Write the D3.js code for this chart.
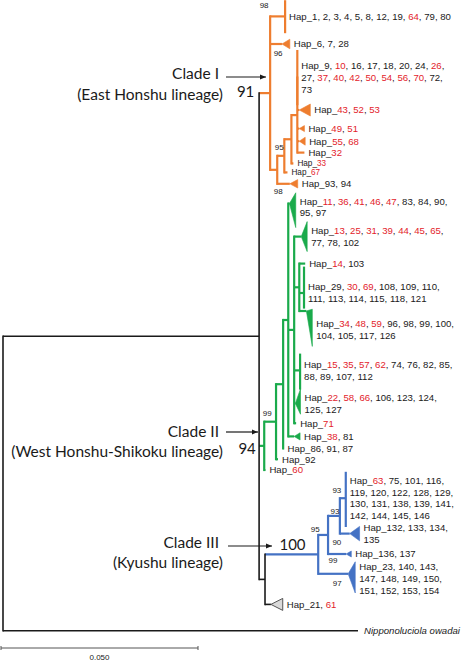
<!DOCTYPE html>
<html>
<head>
<meta charset="utf-8">
<script src="https://cdn.jsdelivr.net/npm/d3@7"></script>
<style>
html, body { margin: 0; padding: 0; background: #fff; }
svg { display: block; }
.tip { font-family: "Liberation Sans", Arial, sans-serif; font-size: 9.6px; fill: #1a1a1a; white-space: pre; }
.tip.small { font-size: 8.2px; }
.tip .red { fill: #e3222b; }
.outgroup { font-family: "Liberation Sans", Arial, sans-serif; font-size: 9.6px; font-style: italic; fill: #1a1a1a; }
.boot { font-family: "Liberation Sans", Arial, sans-serif; font-size: 8px; fill: #1a1a1a; }
.support { font-family: Lato, "Open Sans", sans-serif; font-size: 15px; fill: #1a1a1a; }
.clade { font-family: Lato, "Open Sans", sans-serif; font-size: 15.5px; fill: #1a1a1a; }
.scale { font-family: "Liberation Sans", Arial, sans-serif; font-size: 8px; fill: #1a1a1a; }
</style>
</head>
<body>
<div id="chart"></div>
<script>
// tree as a parent table: id, parent, branch length (substitutions/site)
const branches = [
    ['root', '', 0],
    ['ingroup', 'root', 0.0650],
    ['cladeI', 'ingroup', 0.0028],
    ['Hap_1', 'cladeI', 0.0038],
    ['Hap_6', 'cladeI', 0.0030],
    ['I98', 'cladeI', 0.0018],
    ['I95', 'I98', 0.0018],
    ['Ix', 'I95', 0.0018],
    ['Iy', 'Ix', 0.0015],
    ['Hap_9', 'Iy', 0],
    ['Hap_43', 'Iy', 0.0005],
    ['Hap_49', 'Iy', 0.0005],
    ['Hap_55', 'Iy', 0.0005],
    ['Hap_32', 'Iy', 0.0018],
    ['Hap_33', 'Ix', 0.0005],
    ['Hap_67', 'I95', 0.0008],
    ['Hap_93', 'I98', 0.0032],
    ['cladeII', 'ingroup', 0.0013],
    ['II99', 'cladeII', 0.0030],
    ['IIa', 'II99', 0.0018],
    ['IIb', 'IIa', 0.0013],
    ['Hap_11', 'IIb', 0.0003],
    ['IIc', 'IIb', 0.0015],
    ['Hap_13', 'IIc', 0.0018],
    ['IId', 'IIc', 0.0013],
    ['Hap_14', 'IId', 0.0015],
    ['Hap_29', 'IId', 0.0012],
    ['Hap_34', 'IId', 0.0018],
    ['Hap_15', 'IIc', 0.0015],
    ['Hap_22', 'IIc', 0.0003],
    ['Hap_71', 'IIc', 0.0005],
    ['Hap_38', 'IIb', 0.0015],
    ['Hap_86', 'IIa', 0.0001],
    ['Hap_92', 'II99', 0.0005],
    ['Hap_60', 'cladeII', 0.0003],
    ['south', 'ingroup', 0.0015],
    ['cladeIII', 'south', 0.0135],
    ['III95', 'cladeIII', 0.0025],
    ['III93', 'III95', 0.0030],
    ['Hap_63', 'III93', 0.0015],
    ['Hap_132', 'III93', 0.0025],
    ['Hap_136', 'III95', 0.0046],
    ['Hap_23', 'cladeIII', 0.0076],
    ['Hap_21', 'south', 0.0015],
    ['owadai', 'root', 0.0901]
];

// vertical room (in label rows) taken by each tip, top to bottom
const tipRows = [2.4, 2.2, 3.4, 2.0, 1.1, 1.0, 0.9, 0.9, 0.6, 1.3,
                 2.6, 2.3, 2.2, 2.7, 3.4, 3.4, 2.1, 1.2, 1.0, 1.0, 0.8, 1.0,
                 3.7, 2.2, 1.2, 2.9, 1.4, 3.0];

// collapsed subtrees: id, depth, top row, bottom row, apex row (0 depth = flat bar)
const collapsedTips = [
    ['Hap_1', 0, -1.35, 1.4, 0],
    ['Hap_6', 0.0020, -0.4, 0.4, 0],
    ['Hap_9', 0, -2.3, 2.3, 0],
    ['Hap_43', 0.0028, -0.5, 0.5, 0],
    ['Hap_49', 0.0013, -0.25, 0.25, 0],
    ['Hap_55', 0.0015, -0.33, 0.33, 0],
    ['Hap_93', 0.0020, -0.35, 0.35, 0],
    ['Hap_11', 0.0016, -1.2, 1.7, -0.3],
    ['Hap_13', 0.0015, -1.25, 1.25, 0],
    ['Hap_29', 0, -2.2, 1.3, 0],
    ['Hap_34', 0.0015, -1.7, 1.4, -1.55],
    ['Hap_15', 0, -1.4, 1.6, 0],
    ['Hap_22', 0.0013, -1.2, 0.9, 0],
    ['Hap_38', 0.0015, -0.3, 0.3, 0],
    ['Hap_63', 0, -2.2, 2.4, 0],
    ['Hap_132', 0.0025, -0.6, 0.6, 0],
    ['Hap_136', 0.0013, -0.25, 0.25, 0],
    ['Hap_23', 0.0018, -1.4, 1.2, -0.4],
    ['Hap_21', 0.0030, -0.5, 0.5, 0]
];
const greyTips = ['Hap_21'];
const smallTips = ['Hap_33', 'Hap_67'];

const tipLines = {
    Hap_1: ['Hap_1, 2, 3, 4, 5, 8, 12, 19, 64, 79, 80'],
    Hap_6: ['Hap_6, 7, 28'],
    Hap_9: ['Hap_9, 10, 16, 17, 18, 20, 24, 26,', '27, 37, 40, 42, 50, 54, 56, 70, 72,', '73'],
    Hap_43: ['Hap_43, 52, 53'],
    Hap_49: ['Hap_49, 51'],
    Hap_55: ['Hap_55, 68'],
    Hap_32: ['Hap_32'],
    Hap_33: ['Hap_33'],
    Hap_67: ['Hap_67'],
    Hap_93: ['Hap_93, 94'],
    Hap_11: ['Hap_11, 36, 41, 46, 47, 83, 84, 90,', '95, 97'],
    Hap_13: ['Hap_13, 25, 31, 39, 44, 45, 65,', '77, 78, 102'],
    Hap_14: ['Hap_14, 103'],
    Hap_29: ['Hap_29, 30, 69, 108, 109, 110,', '111, 113, 114, 115, 118, 121'],
    Hap_34: ['Hap_34, 48, 59, 96, 98, 99, 100,', '104, 105, 117, 126'],
    Hap_15: ['Hap_15, 35, 57, 62, 74, 76, 82, 85,', '88, 89, 107, 112'],
    Hap_22: ['Hap_22, 58, 66, 106, 123, 124,', '125, 127'],
    Hap_71: ['Hap_71'],
    Hap_38: ['Hap_38, 81'],
    Hap_86: ['Hap_86, 91, 87'],
    Hap_92: ['Hap_92'],
    Hap_60: ['Hap_60'],
    Hap_63: ['Hap_63, 75, 101, 116,', '119, 120, 122, 128, 129,', '130, 131, 138, 139, 141,', '142, 144, 145, 146'],
    Hap_132: ['Hap_132, 133, 134,', '135'],
    Hap_136: ['Hap_136, 137'],
    Hap_23: ['Hap_23, 140, 143,', '147, 148, 149, 150,', '151, 152, 153, 154'],
    Hap_21: ['Hap_21, 61']
};
const outgroupName = 'Nipponoluciola owadai';

// haplotypes printed in red
const redHaplotypes = [64, 10, 26, 37, 40, 42, 50, 54, 56, 70, 43, 52, 53, 49, 51, 55, 68,
    32, 33, 67, 11, 36, 41, 46, 47, 13, 25, 31, 39, 44, 45, 65, 14, 30, 69, 34, 48, 59,
    15, 35, 57, 62, 22, 58, 66, 71, 38, 60, 63, 61];

const bootstraps = [['Hap_1', 98], ['Hap_6', 96], ['I95', 95], ['Hap_93', 98], ['II99', 99],
    ['Hap_63', 93], ['III93', 93], ['III95', 95], ['Hap_132', 90], ['Hap_136', 99], ['Hap_23', 97]];
const cladeSupport = [['cladeI', 91], ['cladeII', 94], ['cladeIII', 100]];
const cladeNames = [
    ['cladeI', 'Clade I', '(East Honshu lineage)'],
    ['cladeII', 'Clade II', '(West Honshu-Shikoku lineage)'],
    ['cladeIII', 'Clade III', '(Kyushu lineage)']
];
const scaleBarValue = 0.05;

// ---- layout ----
const width = 462, height = 664;
const rowPx = 12;
const cladeColor = { cladeI: '#ee7d2f', cladeII: '#1aaa4b', cladeIII: '#4472c4' };
const ink = '#1a1a1a';

// label placement tweaks, relative to (parent x, node y)
const bootOffset = {
    Hap_1: [-6, -11.5], Hap_6: [8, 9], I95: [2, -9], Hap_93: [1, 7], II99: [3, -9],
    Hap_63: [-3, -8], III93: [7, -5], III95: [-3, -6], Hap_132: [-3, 9], Hap_136: [5, 6], Hap_23: [19, 9]
};
const supportOffset = { cladeI: [-13.5, -1], cladeII: [-12, 3], cladeIII: [27.5, -9.5] };
const cladeNoteLayout = {
    cladeI: { arrow: [226, 266, 77], title: [219, 74], sub: [223, 95] },
    cladeII: { arrow: [226, 258, 432], title: [219, 432], sub: [223, 452] },
    cladeIII: { arrow: [228, 272, 546], title: [219, 543], sub: [223, 563] }
};

const svg = d3.select('#chart').append('svg')
    .attr('width', width)
    .attr('height', height)
    .attr('viewBox', [0, 0, width, height]);

svg.append('defs').append('marker')
    .attr('id', 'arrow')
    .attr('viewBox', '0 -5 10 10')
    .attr('refX', 10)
    .attr('refY', 0)
    .attr('markerWidth', 6)
    .attr('markerHeight', 6)
    .attr('markerUnits', 'userSpaceOnUse')
    .attr('orient', 'auto')
    .append('path')
    .attr('d', 'M0,-4L10,0L0,4Z')
    .style('fill', ink);

// Build the hierarchy
const root = d3.stratify()
    .id(d => d.id)
    .parentId(d => d.parent || null)(branches.map(([id, parent, len]) => ({ id, parent, len })));

const x = d3.scaleLinear().domain([0, scaleBarValue]).range([3, 200]);
const totalRows = d3.sum(tipRows);
const y = d3.scaleLinear().domain([0, totalRows]).range([2, 2 + totalRows * rowPx]);
const collapsed = new Map(collapsedTips.map(([id, depth, top, bot, apex]) => [id, { depth, top, bot, apex }]));
const red = new Set(redHaplotypes);

root.eachBefore(n => {
    n.dist = n.parent ? n.parent.dist + n.data.len : 0;
    n.px = x(n.dist);
    n.color = cladeColor[n.id] || (n.parent ? n.parent.color : ink);
});

let acc = 0;
root.leaves().forEach((leaf, i) => {
    leaf.py = y(acc + tipRows[i] / 2);
    acc += tipRows[i];
    const c = collapsed.get(leaf.id);
    leaf.cy = c ? leaf.py + c.apex * rowPx : leaf.py;
});
root.eachAfter(n => {
    if (n.children) {
        n.cy = (n.children[0].cy + n.children[n.children.length - 1].cy) / 2;
    }
});

const widthOf = c => (c === ink ? 1.6 : 2.2);
const gTree = svg.append('g');

// horizontal branches
gTree.selectAll('line.h')
    .data(root.descendants().filter(n => n.parent))
    .enter().append('line')
    .attr('x1', d => d.parent.px)
    .attr('x2', d => d.px)
    .attr('y1', d => d.cy)
    .attr('y2', d => d.cy)
    .style('stroke', d => d.color)
    .style('stroke-width', d => widthOf(d.color));

// vertical connectors
gTree.selectAll('line.v')
    .data(root.descendants().filter(n => n.children))
    .enter().append('line')
    .attr('x1', d => d.px)
    .attr('x2', d => d.px)
    .attr('y1', d => d.children[0].cy - widthOf(d.color) / 2)
    .attr('y2', d => d.children[d.children.length - 1].cy + widthOf(d.color) / 2)
    .style('stroke', d => d.color)
    .style('stroke-width', d => widthOf(d.color));

// collapsed subtrees
const collapsedLeaves = root.leaves().filter(n => collapsed.has(n.id));
gTree.selectAll('path.clp')
    .data(collapsedLeaves)
    .enter().append('path')
    .attr('d', d => {
        const c = collapsed.get(d.id);
        const y0 = d.py + c.top * rowPx, y1 = d.py + c.bot * rowPx;
        if (c.depth === 0) return `M${d.px},${y0}V${y1}`;
        const xb = x(d.dist + c.depth);
        return `M${d.px},${d.cy}L${xb},${y0}L${xb},${y1}Z`;
    })
    .style('fill', d => collapsed.get(d.id).depth === 0 ? 'none' : (greyTips.includes(d.id) ? '#d9d9d9' : d.color))
    .style('stroke', d => greyTips.includes(d.id) ? '#555' : d.color)
    .style('stroke-width', d => collapsed.get(d.id).depth === 0 ? 2.2 : (greyTips.includes(d.id) ? 1 : 0.6))
    .style('stroke-linejoin', 'miter');

// tip labels
const lineH = 11.8;
root.leaves().forEach(leaf => {
    const c = collapsed.get(leaf.id);
    const right = c && c.depth > 0 ? x(leaf.dist + c.depth) : leaf.px;
    if (leaf.id === 'owadai') {
        svg.append('text').attr('class', 'outgroup')
            .attr('x', right + 6).attr('y', leaf.cy).attr('dy', '0.35em')
            .text(outgroupName);
        return;
    }
    const lines = tipLines[leaf.id];
    lines.forEach((line, k) => {
        const t = svg.append('text')
            .attr('class', smallTips.includes(leaf.id) ? 'tip small' : 'tip')
            .attr('x', right + 4)
            .attr('y', leaf.py + (k - (lines.length - 1) / 2) * lineH)
            .attr('dy', '0.35em');
        line.split(/(\d+)/).filter(s => s !== '').forEach(part => {
            t.append('tspan')
                .attr('class', /^\d+$/.test(part) && red.has(+part) ? 'red' : null)
                .text(part);
        });
    });
});

const byId = new Map(root.descendants().map(n => [n.id, n]));

// bootstrap values
svg.selectAll('text.boot')
    .data(bootstraps)
    .enter().append('text')
    .attr('class', 'boot')
    .attr('text-anchor', 'middle')
    .attr('dy', '0.35em')
    .attr('x', ([id]) => byId.get(id).parent.px + bootOffset[id][0])
    .attr('y', ([id]) => byId.get(id).cy + bootOffset[id][1])
    .text(([, v]) => v);

svg.selectAll('text.support')
    .data(cladeSupport)
    .enter().append('text')
    .attr('class', 'support')
    .attr('text-anchor', 'middle')
    .attr('dy', '0.35em')
    .attr('x', ([id]) => byId.get(id).parent.px + supportOffset[id][0])
    .attr('y', ([id]) => byId.get(id).cy + supportOffset[id][1])
    .text(([, v]) => v);

// clade annotations
cladeNames.forEach(([id, title, sub]) => {
    const L = cladeNoteLayout[id];
    svg.append('line')
        .attr('x1', L.arrow[0]).attr('x2', L.arrow[1])
        .attr('y1', L.arrow[2]).attr('y2', L.arrow[2])
        .style('stroke', ink).style('stroke-width', 1.2)
        .attr('marker-end', 'url(#arrow)');
    svg.append('text').attr('class', 'clade')
        .attr('text-anchor', 'end').attr('dy', '0.35em')
        .attr('x', L.title[0]).attr('y', L.title[1]).text(title);
    svg.append('text').attr('class', 'clade')
        .attr('text-anchor', 'end').attr('dy', '0.35em')
        .attr('x', L.sub[0]).attr('y', L.sub[1]).text(sub);
});

// scale bar
const barLen = x(scaleBarValue) - x(0);
const bar = svg.append('g').attr('transform', 'translate(1,648)');
bar.append('line').attr('x1', 0).attr('x2', barLen)
    .style('stroke', '#555').style('stroke-width', 1);
bar.selectAll('line.tick')
    .data([0, barLen])
    .enter().append('line')
    .attr('x1', d => d).attr('x2', d => d)
    .attr('y1', -2).attr('y2', 2)
    .style('stroke', '#555').style('stroke-width', 1);
bar.append('text').attr('class', 'scale')
    .attr('x', barLen / 2).attr('y', 12)
    .attr('text-anchor', 'middle')
    .text(d3.format('.3f')(scaleBarValue));
</script>
</body>
</html>
